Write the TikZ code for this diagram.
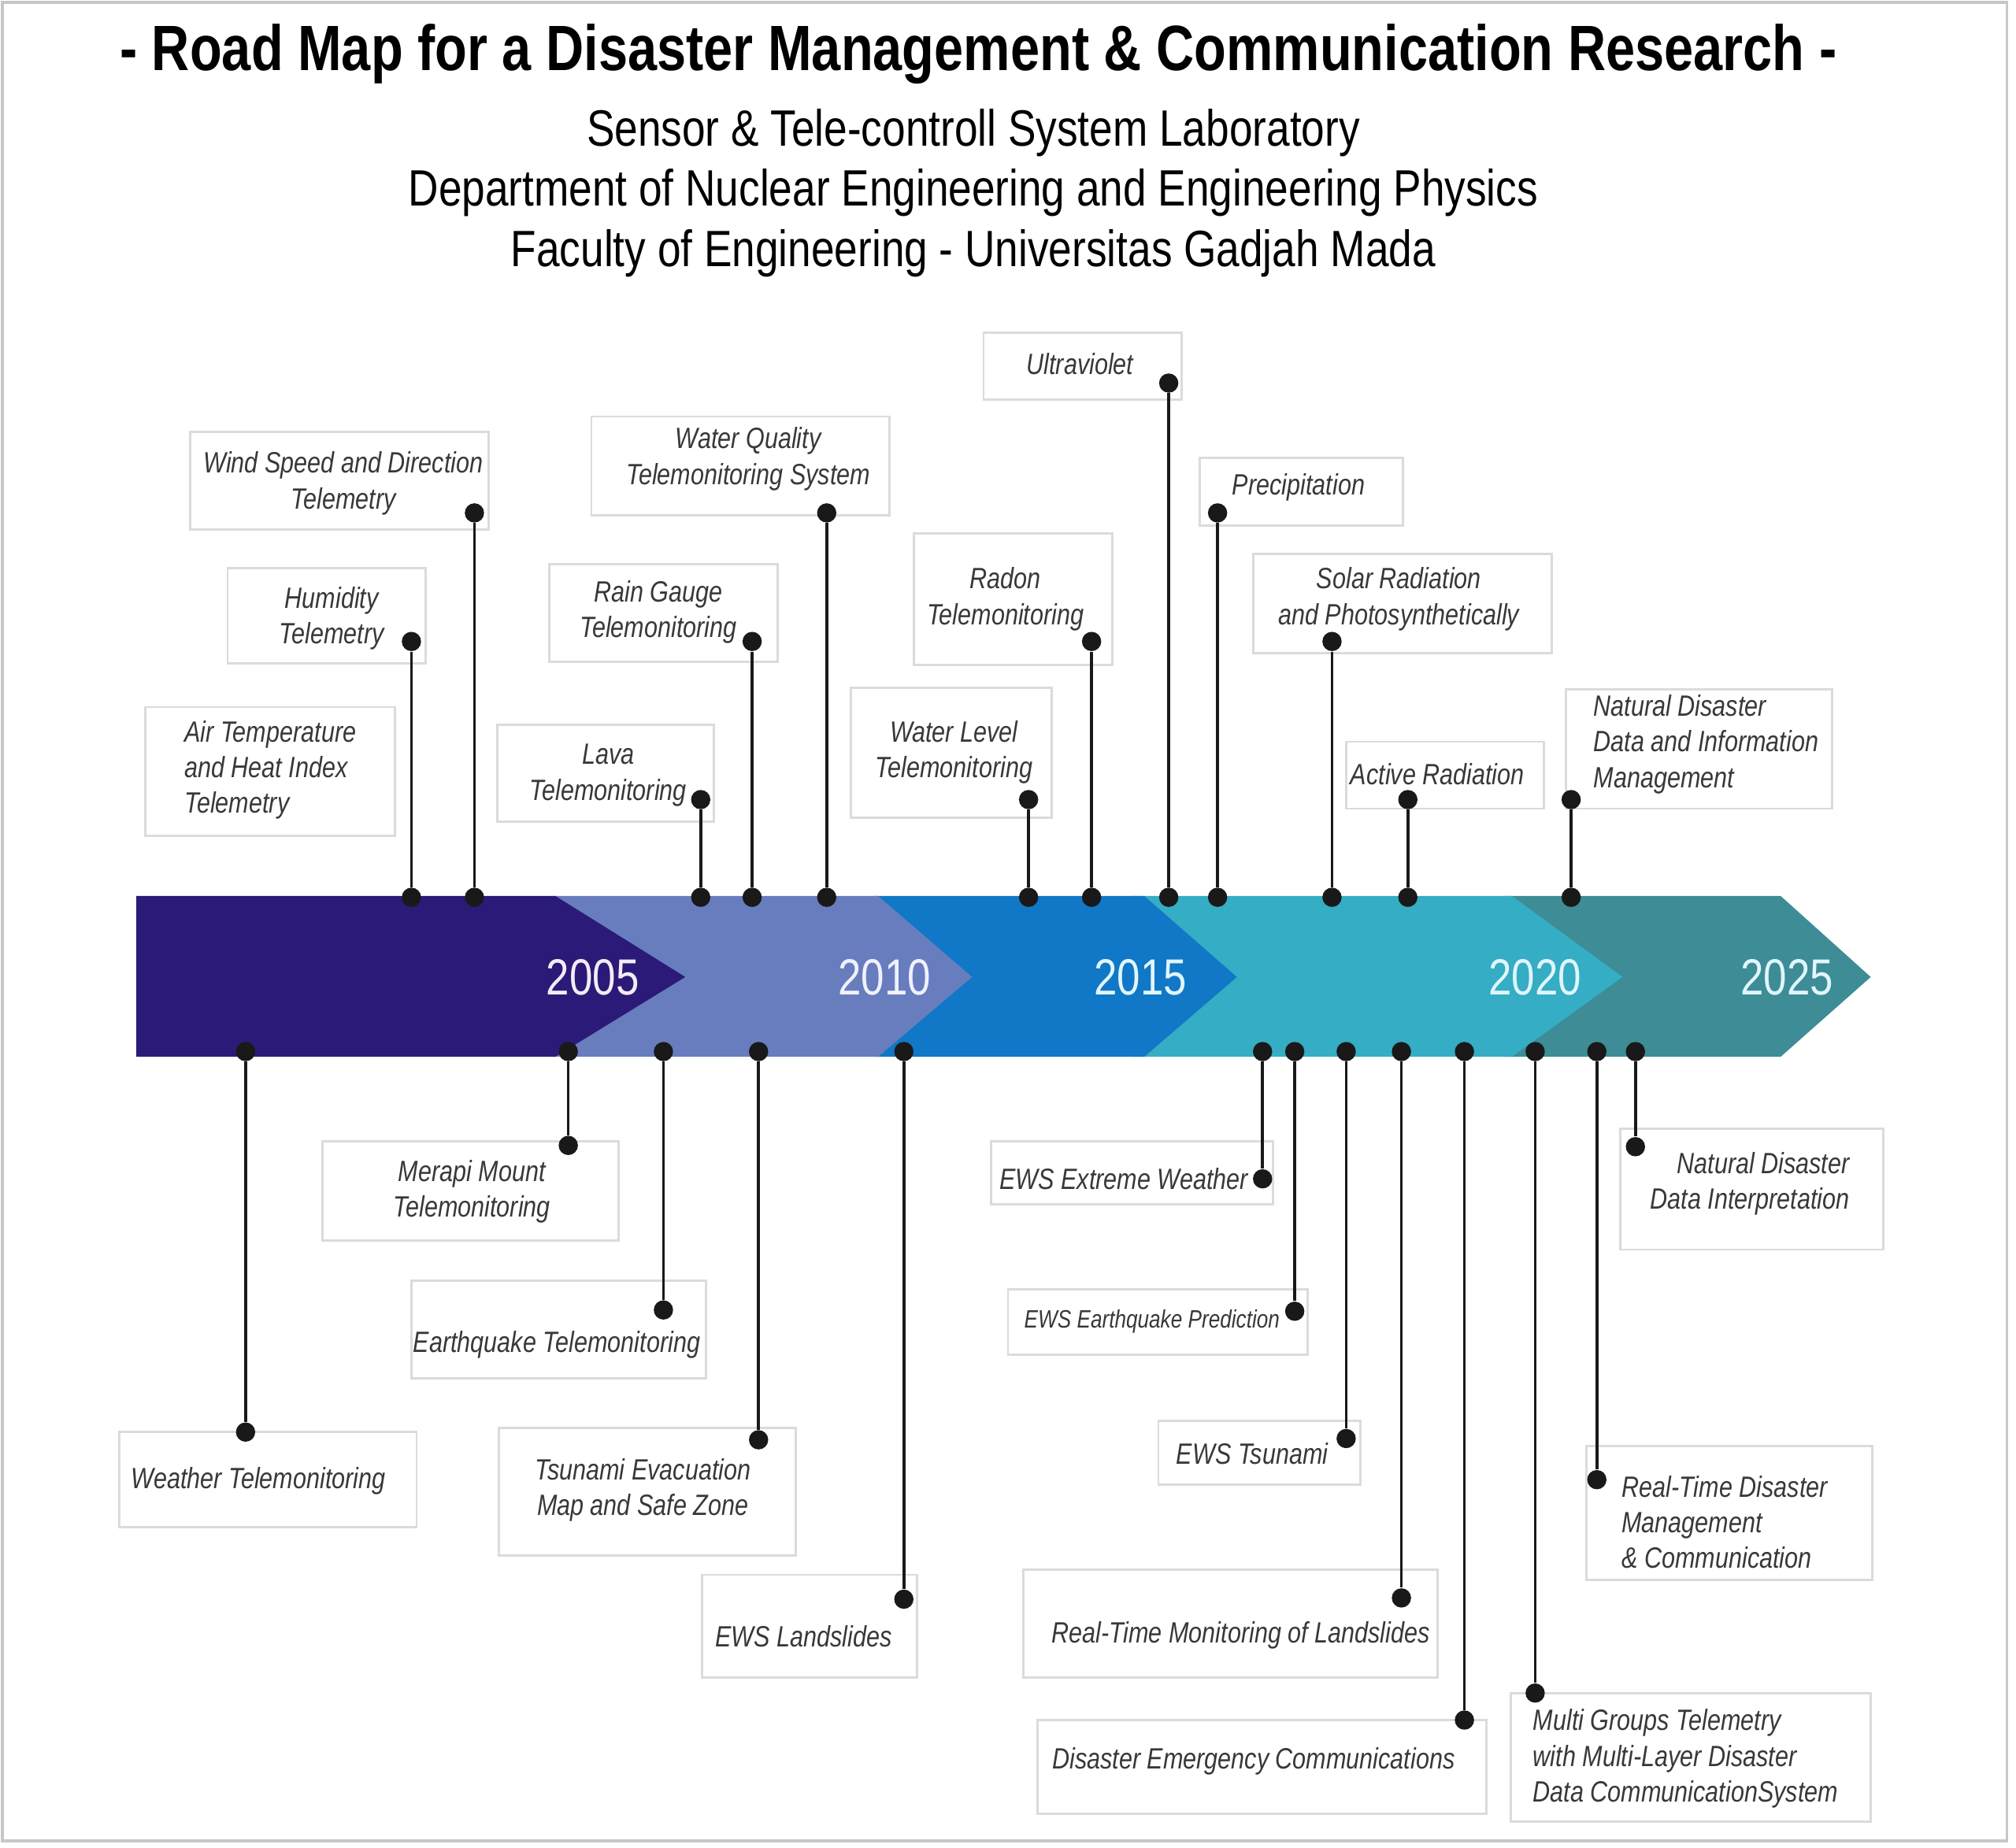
\documentclass[tikz,border=0pt]{standalone}
\usepackage{fontspec}
\newfontfamily\narrowsf[FakeStretch=0.82]{Liberation Sans}
\definecolor{segA}{HTML}{2B1A77}
\definecolor{segB}{HTML}{687DBE}
\definecolor{segC}{HTML}{1078C6}
\definecolor{segD}{HTML}{35ADC4}
\definecolor{segE}{HTML}{3D8C96}
\begin{document}
\begin{tikzpicture}[x=0.016cm,y=-0.016cm,
    lbl/.style={font=\narrowsf\itshape\fontsize{10.4}{12.6}\selectfont,text=black!78,align=center,inner sep=0pt},
    lblsmall/.style={lbl,font=\narrowsf\itshape\fontsize{8.9}{11}\selectfont},
    labelbox/.style={draw=black!14,line width=0.8pt},
    pindot/.style={circle,fill=black!90,inner sep=0pt,minimum size=0.24cm},
    stem/.style={line width=1pt,draw=black!90},
    year/.style={font=\narrowsf\fontsize{18}{18}\selectfont,inner sep=0pt}]
  \useasboundingbox (0,0) rectangle (1568,1437);
  \draw[black!22,line width=1pt] (2,2) rectangle (1561,1432);

  \node[font=\narrowsf\bfseries\fontsize{22.7}{26}\selectfont] (title) at (761,42)
    {- Road Map for a Disaster Management \& Communication Research -};
  \node[font=\narrowsf\fontsize{18.1}{21.3}\selectfont,align=center] (lab) at (757,150)
    {Sensor \& Tele-controll System Laboratory\\
     Department of Nuclear Engineering and Engineering Physics\\
     Faculty of Engineering - Universitas Gadjah Mada};

  \fill[segE] (1170,697) -- (1385,697) -- (1455,760) -- (1385,822) -- (1170,822) -- cycle;
  \fill[segD] (880,697) -- (1176,697) -- (1262,760) -- (1176,822) -- (880,822) -- cycle;
  \fill[segC] (680,697) -- (890,697) -- (962,760) -- (890,822) -- (680,822) -- cycle;
  \fill[segB] (430,697) -- (683,697) -- (756,760) -- (683,822) -- (430,822) -- cycle;
  \fill[segA] (106,697) -- (432,697) -- (533,760) -- (432,822) -- (106,822) -- cycle;
  \node[year,text=violet!8] (y2005) at (461,760) {2005};
  \node[year,text=blue!6] (y2010) at (688,760) {2010};
  \node[year,text=cyan!12] (y2015) at (887,760) {2015};
  \node[year,text=cyan!12] (y2020) at (1194,760) {2020};
  \node[year,text=cyan!12] (y2025) at (1390,760) {2025};

  \draw[labelbox] (148,336) rectangle (380,412);
  \node[lbl] (wind) at (267,376) {Wind Speed and Direction\\Telemetry};
  \draw[labelbox] (177,442) rectangle (331,516);
  \node[lbl] (hum) at (258,481) {Humidity\\Telemetry};
  \draw[labelbox] (113,550) rectangle (307,650);
  \node[lbl,anchor=west,align=left] (air) at (143,599) {Air Temperature\\and Heat Index\\Telemetry};
  \draw[labelbox] (460,324) rectangle (692,401);
  \node[lbl] (wq) at (582,357) {Water Quality\\Telemonitoring System};
  \draw[labelbox] (427,439) rectangle (605,515);
  \node[lbl] (rain) at (512,476) {Rain Gauge\\Telemonitoring};
  \draw[labelbox] (387,564) rectangle (555,639);
  \node[lbl] (lava) at (473,603) {Lava\\Telemonitoring};
  \draw[labelbox] (765,259) rectangle (919,311);
  \node[lbl] (uv) at (840,283) {Ultraviolet};
  \draw[labelbox] (711,415) rectangle (865,517);
  \node[lbl] (radon) at (782,466) {Radon\\Telemonitoring};
  \draw[labelbox] (662,535) rectangle (818,636);
  \node[lbl] (wl) at (742,585) {Water Level\\Telemonitoring};
  \draw[labelbox] (933,356) rectangle (1091,409);
  \node[lbl] (precip) at (1010,379) {Precipitation};
  \draw[labelbox] (975,431) rectangle (1207,508);
  \node[lbl] (solar) at (1088,466) {Solar Radiation\\and Photosynthetically};
  \draw[labelbox] (1047,577) rectangle (1201,629);
  \node[lbl] (active) at (1118,602) {Active Radiation};
  \draw[labelbox] (1218,536) rectangle (1425,629);
  \node[lbl,anchor=west,align=left] (ndim) at (1239,579) {Natural Disaster\\Data and Information\\Management};

  \draw[labelbox] (93,1114) rectangle (324,1188);
  \node[lbl] (weather) at (201,1152) {Weather Telemonitoring};
  \draw[labelbox] (251,888) rectangle (481,965);
  \node[lbl] (merapi) at (367,927) {Merapi Mount\\Telemonitoring};
  \draw[labelbox] (320,996) rectangle (549,1072);
  \node[lbl] (eq) at (433,1046) {Earthquake Telemonitoring};
  \draw[labelbox] (388,1111) rectangle (619,1210);
  \node[lbl] (tsu) at (500,1159) {Tsunami Evacuation\\Map and Safe Zone};
  \draw[labelbox] (546,1225) rectangle (713,1305);
  \node[lbl] (ewsls) at (625,1273) {EWS Landslides};
  \draw[labelbox] (771,888) rectangle (990,937);
  \node[lbl] (ewsxw) at (874,917) {EWS Extreme Weather};
  \draw[labelbox] (784,1003) rectangle (1017,1054);
  \node[lblsmall] (ewseq) at (896,1028) {EWS Earthquake Prediction};
  \draw[labelbox] (901,1105) rectangle (1058,1155);
  \node[lbl] (ewstsu) at (974,1131) {EWS Tsunami};
  \draw[labelbox] (796,1221) rectangle (1118,1305);
  \node[lbl] (rtls) at (965,1272) {Real-Time Monitoring of Landslides};
  \draw[labelbox] (807,1338) rectangle (1156,1411);
  \node[lbl] (dec) at (975,1370) {Disaster Emergency Communications};
  \draw[labelbox] (1175,1317) rectangle (1455,1417);
  \node[lbl,anchor=west,align=left] (multi) at (1192,1368) {Multi Groups Telemetry\\with Multi-Layer Disaster\\Data CommunicationSystem};
  \draw[labelbox] (1234,1125) rectangle (1456,1229);
  \node[lbl,anchor=west,align=left] (rtdm) at (1261,1184) {Real-Time Disaster\\Management\\\& Communication};
  \draw[labelbox] (1260,878) rectangle (1465,972);
  \node[lbl,anchor=east,align=right] (ndi) at (1439,921) {Natural Disaster\\Data Interpretation};

  \node[pindot] (wind-a) at (369,698) {};   \node[pindot] (wind-b) at (369,399) {};
  \node[pindot] (hum-a) at (320,698) {};    \node[pindot] (hum-b) at (320,499) {};
  \node[pindot] (wq-a) at (643,698) {};     \node[pindot] (wq-b) at (643,399) {};
  \node[pindot] (rain-a) at (585,698) {};   \node[pindot] (rain-b) at (585,499) {};
  \node[pindot] (lava-a) at (545,698) {};   \node[pindot] (lava-b) at (545,622) {};
  \node[pindot] (uv-a) at (909,698) {};     \node[pindot] (uv-b) at (909,298) {};
  \node[pindot] (radon-a) at (849,698) {};  \node[pindot] (radon-b) at (849,499) {};
  \node[pindot] (wl-a) at (800,698) {};     \node[pindot] (wl-b) at (800,622) {};
  \node[pindot] (precip-a) at (947,698) {}; \node[pindot] (precip-b) at (947,399) {};
  \node[pindot] (solar-a) at (1036,698) {}; \node[pindot] (solar-b) at (1036,499) {};
  \node[pindot] (active-a) at (1095,698) {};\node[pindot] (active-b) at (1095,622) {};
  \node[pindot] (ndim-a) at (1222,698) {};  \node[pindot] (ndim-b) at (1222,622) {};
  \draw[stem] (wind-a) -- (wind-b);
  \draw[stem] (hum-a) -- (hum-b);
  \draw[stem] (wq-a) -- (wq-b);
  \draw[stem] (rain-a) -- (rain-b);
  \draw[stem] (lava-a) -- (lava-b);
  \draw[stem] (uv-a) -- (uv-b);
  \draw[stem] (radon-a) -- (radon-b);
  \draw[stem] (wl-a) -- (wl-b);
  \draw[stem] (precip-a) -- (precip-b);
  \draw[stem] (solar-a) -- (solar-b);
  \draw[stem] (active-a) -- (active-b);
  \draw[stem] (ndim-a) -- (ndim-b);

  \node[pindot] (weather-a) at (191,818) {}; \node[pindot] (weather-b) at (191,1114) {};
  \node[pindot] (merapi-a) at (442,818) {};  \node[pindot] (merapi-b) at (442,891) {};
  \node[pindot] (eq-a) at (516,818) {};      \node[pindot] (eq-b) at (516,1019) {};
  \node[pindot] (tsu-a) at (590,818) {};     \node[pindot] (tsu-b) at (590,1120) {};
  \node[pindot] (ewsls-a) at (703,818) {};   \node[pindot] (ewsls-b) at (703,1244) {};
  \node[pindot] (ewsxw-a) at (982,818) {};   \node[pindot] (ewsxw-b) at (982,917) {};
  \node[pindot] (ewseq-a) at (1007,818) {};  \node[pindot] (ewseq-b) at (1007,1020) {};
  \node[pindot] (ewstsu-a) at (1047,818) {}; \node[pindot] (ewstsu-b) at (1047,1119) {};
  \node[pindot] (rtls-a) at (1090,818) {};   \node[pindot] (rtls-b) at (1090,1243) {};
  \node[pindot] (dec-a) at (1139,818) {};    \node[pindot] (dec-b) at (1139,1338) {};
  \node[pindot] (multi-a) at (1194,818) {};  \node[pindot] (multi-b) at (1194,1317) {};
  \node[pindot] (rtdm-a) at (1242,818) {};   \node[pindot] (rtdm-b) at (1242,1151) {};
  \node[pindot] (ndi-a) at (1272,818) {};    \node[pindot] (ndi-b) at (1272,892) {};
  \draw[stem] (weather-a) -- (weather-b);
  \draw[stem] (merapi-a) -- (merapi-b);
  \draw[stem] (eq-a) -- (eq-b);
  \draw[stem] (tsu-a) -- (tsu-b);
  \draw[stem] (ewsls-a) -- (ewsls-b);
  \draw[stem] (ewsxw-a) -- (ewsxw-b);
  \draw[stem] (ewseq-a) -- (ewseq-b);
  \draw[stem] (ewstsu-a) -- (ewstsu-b);
  \draw[stem] (rtls-a) -- (rtls-b);
  \draw[stem] (dec-a) -- (dec-b);
  \draw[stem] (multi-a) -- (multi-b);
  \draw[stem] (rtdm-a) -- (rtdm-b);
  \draw[stem] (ndi-a) -- (ndi-b);
\end{tikzpicture}
\end{document}
